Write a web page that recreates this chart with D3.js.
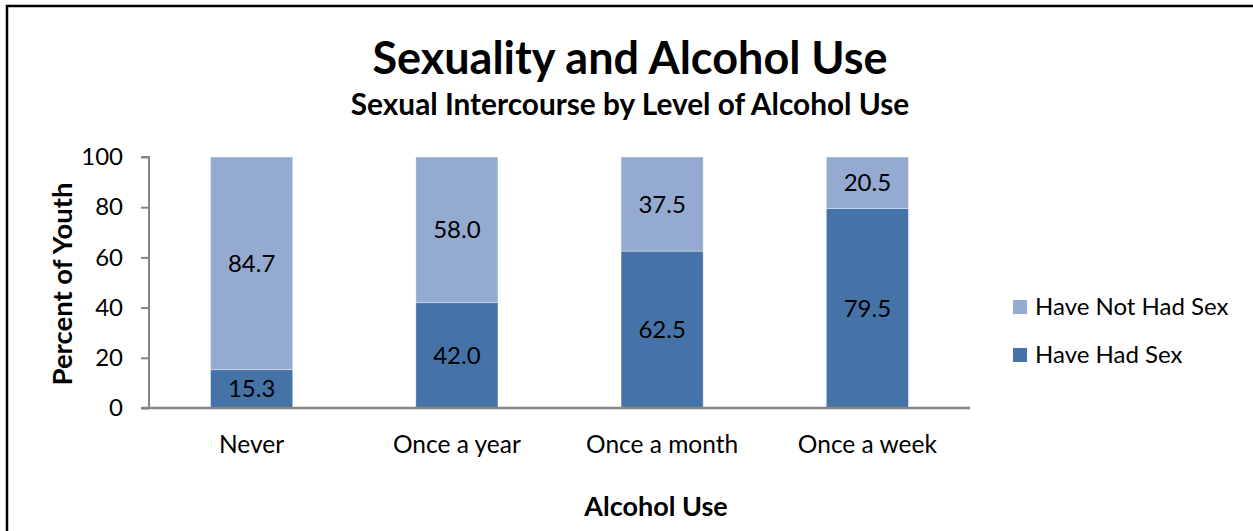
<!DOCTYPE html>
<html>
<head>
<meta charset="utf-8">
<script src="https://cdn.jsdelivr.net/npm/d3@7"></script>
<style>
  html, body { margin: 0; padding: 0; background: #fff; }
  svg { display: block; font-family: Lato, "Open Sans", sans-serif; }
</style>
</head>
<body>
<svg id="chart" width="1253" height="531"></svg>
<script>
// ---- data ----
const categories = ["Never", "Once a year", "Once a month", "Once a week"];
const haveHadSex = [15.3, 42.0, 62.5, 79.5];
const haveNotHadSex = [84.7, 58.0, 37.5, 20.5];
const seriesNames = ["Have Had Sex", "Have Not Had Sex"];
const yTicks = [0, 20, 40, 60, 80, 100];
const titleText = "Sexuality and Alcohol Use";
const subtitleText = "Sexual Intercourse by Level of Alcohol Use";
const xTitle = "Alcohol Use";
const yTitle = "Percent of Youth";

// ---- layout ----
const W = 1253, H = 531;
const plot = { left: 149, right: 970, top: 157, bottom: 408 };
const colors = { "Have Had Sex": "#4573a7", "Have Not Had Sex": "#95aad0" };
const axisColor = "#868686";

const svg = d3.select("#chart");
svg.append("rect").attr("width", W).attr("height", H).attr("fill", "#fff");
// outer border
svg.append("rect")
  .attr("x", 7).attr("y", 6).attr("width", W + 20).attr("height", H + 20)
  .attr("fill", "none").attr("stroke", "#000").attr("stroke-width", 2.5);

const x = d3.scaleBand().domain(categories).range([plot.left, plot.right]).paddingInner(0.6).paddingOuter(0.3);
const y = d3.scaleLinear().domain([0, 100]).range([plot.bottom, plot.top]);

const rows = categories.map((c, i) => ({ cat: c, "Have Had Sex": haveHadSex[i], "Have Not Had Sex": haveNotHadSex[i] }));
const stacked = d3.stack().keys(seriesNames)(rows);

// bars
const g = svg.append("g");
stacked.forEach(layer => {
  g.selectAll(null).data(layer).enter().append("rect")
    .attr("x", d => x(d.data.cat))
    .attr("y", d => y(d[1]))
    .attr("width", x.bandwidth())
    .attr("height", d => y(d[0]) - y(d[1]))
    .attr("fill", colors[layer.key])
    .attr("stroke", "rgba(255,255,255,0.35)")
    .attr("stroke-width", 1);
});

// data labels
stacked.forEach(layer => {
  g.selectAll(null).data(layer).enter().append("text")
    .attr("x", d => x(d.data.cat) + x.bandwidth() / 2)
    .attr("y", d => (y(d[0]) + y(d[1])) / 2)
    .attr("dy", "0.36em")
    .attr("text-anchor", "middle")
    .attr("font-size", 24)
    .attr("fill", "#000")
    .text(d => (d[1] - d[0]).toFixed(1));
});

// y axis
const yAxis = d3.axisLeft(y).tickValues(yTicks).tickSize(8).tickPadding(18).tickFormat(d3.format("d"));
const yg = svg.append("g").attr("transform", `translate(${plot.left},0)`).call(yAxis);
yg.select(".domain").attr("stroke", axisColor).attr("stroke-width", 2).attr("d", `M-8,${plot.top}H0V${plot.bottom}`);
yg.selectAll(".tick line").attr("stroke", axisColor).attr("stroke-width", 2);
yg.selectAll(".tick text").attr("font-size", 24).attr("fill", "#000").attr("font-family", "Lato, sans-serif");

// x axis
const xAxis = d3.axisBottom(x).tickSize(0).tickPadding(28);
const xg = svg.append("g").attr("transform", `translate(0,${plot.bottom})`).call(xAxis);
xg.select(".domain").attr("stroke", axisColor).attr("stroke-width", 2.5).attr("d", `M${plot.left - 8},0H${plot.right}`);
xg.selectAll(".tick text").attr("font-size", 24.5).attr("fill", "#000").attr("font-family", "Lato, sans-serif");

// titles
svg.append("text").attr("x", 630).attr("y", 74).attr("text-anchor", "middle")
  .attr("font-size", 45).attr("font-weight", "bold").text(titleText);
svg.append("text").attr("x", 630).attr("y", 115).attr("text-anchor", "middle")
  .attr("font-size", 29.8).attr("font-weight", "bold").text(subtitleText);
svg.append("text").attr("x", 656).attr("y", 516).attr("text-anchor", "middle")
  .attr("font-size", 27).attr("font-weight", "bold").text(xTitle);
svg.append("text").attr("transform", `translate(72,284) rotate(-90)`).attr("text-anchor", "middle")
  .attr("font-size", 27.5).attr("font-weight", "bold").text(yTitle);

// legend
const legendItems = ["Have Not Had Sex", "Have Had Sex"];
const lg = svg.append("g").attr("transform", "translate(1013,300)");
legendItems.forEach((name, i) => {
  const row = lg.append("g").attr("transform", `translate(0,${i * 48})`);
  row.append("rect").attr("width", 14).attr("height", 14).attr("fill", colors[name]);
  row.append("text").attr("x", 22).attr("y", 15).attr("font-size", 24).text(name);
});
</script>
</body>
</html>
